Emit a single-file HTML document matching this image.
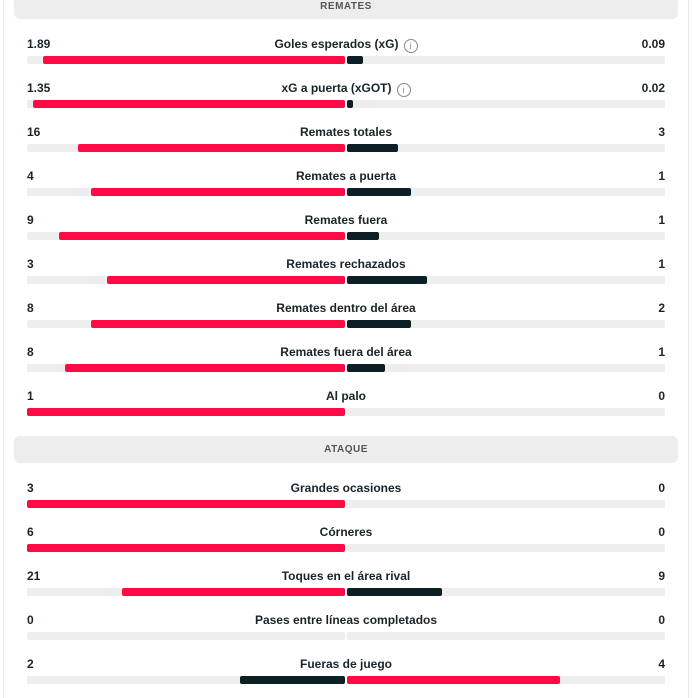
<!DOCTYPE html><html><head><meta charset="utf-8"><style>
body{margin:0;width:692px;height:698px;background:#fff;position:relative;overflow:hidden;font-family:"Liberation Sans",sans-serif;color:#222;}
.edge{position:absolute;top:0;bottom:0;width:1px;background:#e6e6e6}
.hdr{position:absolute;left:14px;width:664px;background:#ededed;border-radius:6px;font-size:10px;font-weight:bold;color:#555;letter-spacing:.5px;text-align:center}
.t{position:absolute;font-size:12px;font-weight:bold;line-height:14px;color:#1a2328}
.l{left:27px}.r{right:27px;text-align:right}.c{left:0;width:692px;text-align:center}
.tr{position:absolute;height:8px;background:#eee;border-radius:2px}
.b{position:absolute;height:8px;border-radius:2px}
.red{background:#ff0a45}.dk{background:#0c1f24}
.i{display:inline-block;width:12px;height:12px;border:1px solid #888;border-radius:50%;font-size:9px;line-height:12px;color:#888;font-weight:normal;margin-left:5px;vertical-align:-1px}
</style></head><body>
<div class="edge" style="left:3px"></div><div class="edge" style="left:688px"></div>
<div class="hdr" style="top:-8px;height:27px;line-height:27px"><span style="position:relative;top:1px">REMATES</span></div>
<div class="hdr" style="top:436px;height:27px;line-height:27px">ATAQUE</div>
<div id="rows"></div>
<script>
var d=[[44,"1.89","Goles esperados (xG)","0.09",43,363,1],[88,"1.35","xG a puerta (xGOT)","0.02",33,353,1],[132,"16","Remates totales","3",78,398],[176,"4","Remates a puerta","1",91,411],[220,"9","Remates fuera","1",59,379],[264,"3","Remates rechazados","1",107,427],[308,"8","Remates dentro del área","2",91,411],[352,"8","Remates fuera del área","1",65,385],[396,"1","Al palo","0",27,347],
[488,"3","Grandes ocasiones","0",27,347],[532,"6","Córneres","0",27,347],[576,"21","Toques en el área rival","9",122,442],[620,"0","Pases entre líneas completados","0",345,347],[664,"2","Fueras de juego","4",240,560,0,1]];
var h="";d.forEach(function(r){var y=r[0]-7,by=r[0]+12;
h+='<div class="t l" style="top:'+y+'px">'+r[1]+'</div><div class="t c" style="top:'+y+'px">'+r[2]+(r[6]?'<span class="i">i</span>':'')+'</div><div class="t r" style="top:'+y+'px">'+r[3]+'</div>';
h+='<div class="tr" style="left:27px;width:318px;top:'+by+'px"></div><div class="tr" style="left:347px;width:318px;top:'+by+'px"></div>';
var lc=r[7]?'dk':'red',rc=r[7]?'red':'dk';
if(r[4]<345)h+='<div class="b '+lc+'" style="left:'+r[4]+'px;width:'+(345-r[4])+'px;top:'+by+'px"></div>';
if(r[5]>347)h+='<div class="b '+rc+'" style="left:347px;width:'+(r[5]-347)+'px;top:'+by+'px"></div>';});
document.getElementById("rows").innerHTML=h;
</script></body></html>
